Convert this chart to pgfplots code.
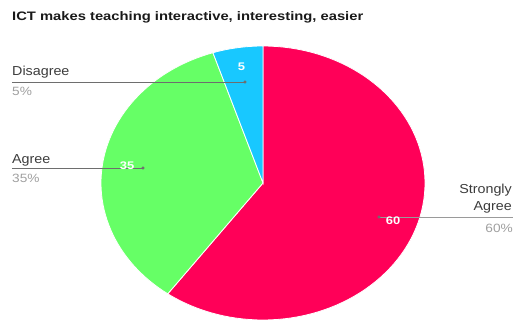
\documentclass[border=0pt]{standalone}
\usepackage{graphicx}
\usepackage{pgfplots}
\usepackage{pgfplotstable}
\pgfplotsset{compat=1.18}
\usepackage{fontspec}
\setmainfont{Liberation Sans}
\definecolor{pinkc}{RGB}{255,0,88}
\definecolor{greenc}{RGB}{102,255,102}
\definecolor{bluec}{RGB}{24,200,255}
\definecolor{namec}{RGB}{60,60,60}
\definecolor{pctc}{RGB}{160,160,160}
\definecolor{leadc}{RGB}{110,110,110}
\pgfplotstableread{
label value
StronglyAgree 60
Agree 35
Disagree 5
}\datatable
\newcommand{\nm}[1]{\scalebox{1.1}[1]{\fontsize{13}{15}\selectfont #1}}
\newcommand{\pc}[1]{\scalebox{1.14}[1]{\fontsize{12}{14}\selectfont #1}}
\newcommand{\vl}[1]{\scalebox{1.18}[1]{\bfseries\fontsize{11}{13}\selectfont #1}}
\begin{document}%
\begin{tikzpicture}%
\pgfplotstablegetelem{0}{value}\of\datatable \let\vA\pgfplotsretval
\pgfplotstablegetelem{1}{value}\of\datatable \let\vB\pgfplotsretval
\pgfplotstablegetelem{2}{value}\of\datatable \let\vC\pgfplotsretval
\pgfmathsetmacro{\azero}{90}
\pgfmathsetmacro{\aone}{\azero-3.6*\vA}
\pgfmathsetmacro{\atwo}{\aone-3.6*\vB}
\pgfmathsetmacro{\athree}{\atwo-3.6*\vC}
\begin{axis}[at={(0,0)}, anchor=south west, width=516pt, height=320pt, scale only axis,
  xmin=0, xmax=516, ymin=0, ymax=320, y dir=reverse, axis lines=none, ticks=none, clip=true]
\addplot[fill=pinkc, draw=white, line width=0.8pt, domain=\aone:\azero, samples=90, variable=\t]
  ({263+162*cos(\t)},{183-137*sin(\t)}) -- (axis cs:263,183) -- cycle;
\addplot[fill=greenc, draw=white, line width=0.8pt, domain=\atwo:\aone, samples=60, variable=\t]
  ({263+162*cos(\t)},{183-137*sin(\t)}) -- (axis cs:263,183) -- cycle;
\addplot[fill=bluec, draw=white, line width=0.8pt, domain=\athree:\atwo, samples=20, variable=\t]
  ({263+162*cos(\t)},{183-137*sin(\t)}) -- (axis cs:263,183) -- cycle;
% leader lines
\addplot[leadc, line width=0.7pt] coordinates {(12,82) (245,82)};
\addplot[leadc, line width=0.7pt] coordinates {(12,168) (143,168)};
\addplot[leadc!70, line width=0.7pt] coordinates {(379,217) (513,217)};
\addplot[only marks, mark=*, mark size=1.4pt, color=leadc] coordinates {(245,82) (143,168) (379,217)};
% value labels
\node[text=white, inner sep=0pt] at (axis cs:241.5,66.5) {\vl{5}};
\node[text=white, inner sep=0pt] at (axis cs:127,165.5) {\vl{35}};
\node[text=white, inner sep=0pt] at (axis cs:393,220.5) {\vl{60}};
% category labels
\node[anchor=base west, inner sep=0pt, text=namec] at (axis cs:12,76) {\nm{Disagree}};
\node[anchor=base west, inner sep=0pt, text=pctc] at (axis cs:12,95.7) {\pc{5\%}};
\node[anchor=base west, inner sep=0pt, text=namec] at (axis cs:12,163.3) {\nm{Agree}};
\node[anchor=base west, inner sep=0pt, text=pctc] at (axis cs:12,182.3) {\pc{35\%}};
\node[anchor=base east, inner sep=0pt, text=namec] at (axis cs:512,194) {\nm{Strongly}};
\node[anchor=base east, inner sep=0pt, text=namec] at (axis cs:512,210.7) {\nm{Agree}};
\node[anchor=base east, inner sep=0pt, text=pctc] at (axis cs:513,232.3) {\pc{60\%}};
% title
\node[anchor=west, inner sep=0pt, text=black!90] at (axis cs:12,17) {\scalebox{1.2}[1]{\bfseries\fontsize{12.3}{14}\selectfont ICT makes teaching interactive, interesting, easier}};
\end{axis}
\pgfresetboundingbox
\path[use as bounding box] (0,0) rectangle (516pt,320pt);
\end{tikzpicture}%
\end{document}
